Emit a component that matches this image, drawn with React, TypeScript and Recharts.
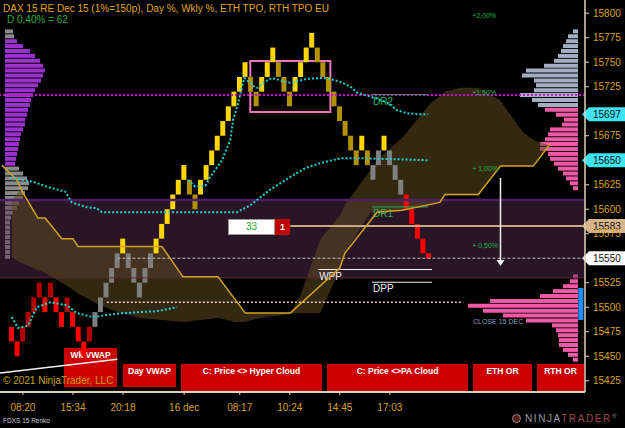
import React from "react";
import {
  ComposedChart,
  Bar,
  Line,
  Area,
  XAxis,
  YAxis,
  Cell,
  ReferenceArea,
  ReferenceLine,
  ReferenceDot,
} from "recharts";

const FONT = '"Liberation Sans", Arial, sans-serif';
const GOLD = "#D9A21B";
const AXIS = "#DCD4B8";

// price / brick-index window of the panel
const Y0 = 15413.5;
const Y1 = 15813.5;
const X0 = -2.12;
const X1 = 103.1;

// renko bricks (FDXS 15 Renko), left to right
const brickLow = [
  15465, 15450, 15465, 15480, 15495, 15510, 15495, 15510, 15495, 15480,
  15495, 15480, 15465, 15450, 15465, 15480, 15495, 15510, 15525, 15540,
  15555, 15540, 15525, 15510, 15525, 15540, 15555, 15570, 15585, 15600,
  15615, 15630, 15615, 15600, 15615, 15630, 15645, 15660, 15675, 15690,
  15705, 15720, 15735, 15720, 15705, 15720, 15735, 15750, 15735, 15720,
  15705, 15720, 15735, 15750, 15765, 15750, 15735, 15720, 15705, 15690,
  15675, 15660, 15645, 15660, 15645, 15630, 15645, 15660, 15645, 15630,
  15615, 15600, 15585, 15570, 15555, 15550,
];
const brickHigh = [
  15480, 15465, 15480, 15495, 15510, 15525, 15510, 15525, 15510, 15495,
  15510, 15495, 15480, 15465, 15480, 15495, 15510, 15525, 15540, 15555,
  15570, 15555, 15540, 15525, 15540, 15555, 15570, 15585, 15600, 15615,
  15630, 15645, 15630, 15615, 15630, 15645, 15660, 15675, 15690, 15705,
  15720, 15735, 15750, 15735, 15720, 15735, 15750, 15765, 15750, 15735,
  15720, 15735, 15750, 15765, 15780, 15765, 15750, 15735, 15720, 15705,
  15690, 15675, 15660, 15675, 15660, 15645, 15660, 15675, 15660, 15645,
  15630, 15615, 15600, 15585, 15570, 15555,
];
// R down, r up in downtrend, G neutral, Y up, D down in uptrend
const brickType = (
  "RRrrrrRrRRrRRRr" + "GGGGG" + "Y" + "GGGGG" + "YYYYYY" + "DD" + "YYYYYYYYY" +
  "DD" + "YYY" + "DDD" + "YYYY" + "DDDDDDDD" + "Y" + "D" + "GG" + "Y" + "GGG" + "RRRRR"
).split("");

const timeTicks = [2, 11, 20, 31, 41, 50, 59, 68];
const timeLabels = ["08:20", "15:34", "20:18", "16 dec", "08:17", "10:24", "14:45", "17:03"];
// 15550 / 15650 / 15700 sit under the price flags
const priceTicks = [
  15425, 15450, 15475, 15500, 15525, 15575, 15600,
  15625, 15675, 15725, 15750, 15775, 15800,
];

// cloud
const cloudX = [
  0, 1.5, 4.7, 6, 9, 11, 11.9, 15.9, 19.5, 23.1, 27, 30.8, 33.9, 37.1, 40.2, 41.9,
  44.7, 47.4, 50.1, 51.9, 55.5, 59.1, 59.9, 64.5, 65.7, 70.4, 75.3, 77.1, 77.9,
  80.7, 83.9, 87.9, 89.1, 92, 93.8, 95.1, 96.9,
];
const cloudLow = [
  15551, 15546, 15538, 15535, 15525, 15518, 15514, 15502, 15494, 15489, 15487,
  15485, 15487, 15489, 15485, 15485, 15489, 15491, 15493, 15494, 15494, 15540,
  15555, 15597, 15597, 15599, 15606, 15607, 15614, 15614, 15614, 15644, 15644,
  15644, 15644, 15655, 15665,
];
const cloudHigh = [
  15609, 15620, 15591, 15591, 15570, 15570, 15562, 15562, 15562, 15562, 15562,
  15531, 15531, 15531, 15507, 15494, 15494, 15494, 15494, 15512, 15569, 15594,
  15604, 15640, 15650, 15674, 15708, 15716, 15720, 15724, 15724, 15711, 15701,
  15678, 15671, 15668, 15665,
];

// stepped cloud line
const stepX = [-1.8, 0.9, 2, 4.7, 6, 9, 11, 11.9, 27, 30.8, 37.1, 42, 50.1, 59, 59.9, 65.7, 70.2, 77, 77.9, 83.9, 87.9, 93.8, 96.9];
const stepP = [15645, 15630, 15617, 15591, 15591, 15570, 15570, 15562, 15562, 15531, 15531, 15494, 15494, 15540, 15555, 15597, 15599, 15607, 15615, 15615, 15644, 15644, 15667];

// vwaps
const wkX = [-0.3, 3.8, 6.9, 9.6, 10.8, 13.5, 15.3, 16.2, 19.5, 40.5, 42.9, 46.5, 50.1, 52.8, 55.5, 59.1, 62.7, 69.3, 74.9];
const wkP = [15632, 15628, 15622, 15618, 15607, 15602, 15601, 15597, 15597, 15597, 15604, 15620, 15633, 15642, 15647, 15652, 15652, 15651, 15650];
const ethX = [0, 1.1, 2.9, 4.5, 6.9, 9.9, 11.7, 14.6, 17.1, 20, 26.1, 29.7];
const ethP = [15490, 15479, 15481, 15500, 15505, 15502, 15494, 15490, 15492, 15494, 15496, 15500];
const dayX = [
  31.7, 33, 34.8, 35.7, 37.8, 39.3, 39.8, 40.7, 41.4, 41.8, 42.9, 43.8, 44.3, 45.2,
  46.8, 49.2, 50.1, 53.1, 56, 57.8, 59.1, 60.9, 62.1, 64.5, 67.5, 69.3, 71.1, 72.9, 74.9,
];
const dayP = [
  15630, 15623, 15624, 15633, 15650, 15671, 15691, 15708, 15725, 15734, 15729,
  15724, 15724, 15729, 15734, 15730, 15729, 15733, 15734, 15732, 15730, 15725,
  15719, 15715, 15709, 15701, 15698, 15697, 15697,
];

// volume profiles: [price, volume, zone]
const leftProfile = [
  [15781, 8, 0], [15776, 9, 0], [15771, 12, 1], [15766, 18, 1], [15761, 25, 1],
  [15756, 30, 1], [15751, 35, 1], [15746, 38, 1], [15741, 40, 1], [15736, 38, 1],
  [15731, 36, 1], [15726, 33, 1], [15721, 30, 1], [15716, 28, 1], [15711, 26, 1],
  [15706, 25, 1], [15701, 23, 1], [15696, 22, 1], [15691, 20, 1], [15686, 20, 1],
  [15681, 18, 1], [15676, 16, 1], [15671, 15, 1], [15666, 14, 1], [15661, 13, 1],
  [15656, 12, 1], [15651, 11, 1], [15646, 10, 1], [15641, 14, 0], [15636, 18, 0],
  [15631, 22, 0], [15626, 24, 0], [15621, 23, 0], [15616, 20, 0], [15611, 18, 0],
  [15606, 14, 0], [15601, 12, 0], [15596, 8, 0], [15591, 6, 0], [15586, 5, 0],
  [15581, 5, 0], [15576, 5, 0], [15571, 5, 0], [15566, 5, 0], [15561, 5, 0],
  [15556, 5, 0], [15551, 5, 0],
];
const rightProfile = [
  [15781, 5, 0], [15776, 10, 0], [15771, 12, 0], [15766, 15, 0], [15761, 17, 0],
  [15756, 20, 0], [15751, 24, 0], [15746, 34, 0], [15741, 52, 0], [15736, 56, 0],
  [15731, 44, 0], [15726, 42, 0], [15721, 44, 0], [15716, 58, 0], [15711, 46, 0],
  [15706, 40, 0], [15701, 33, 1], [15696, 22, 1], [15691, 14, 1], [15686, 16, 1],
  [15681, 28, 1], [15676, 30, 1], [15671, 33, 1], [15666, 38, 1], [15661, 38, 1],
  [15656, 30, 1], [15651, 28, 1], [15646, 24, 1], [15641, 20, 1], [15636, 15, 1],
  [15631, 12, 1], [15626, 8, 1], [15621, 5, 1],
  [15531, 5, 1], [15526, 8, 1], [15521, 15, 1], [15516, 25, 1], [15511, 38, 1],
  [15506, 88, 1], [15501, 110, 1], [15496, 95, 1], [15491, 75, 1], [15486, 52, 1],
  [15481, 26, 1], [15476, 22, 1], [15471, 20, 1], [15466, 19, 1], [15461, 19, 1],
  [15456, 15, 1], [15451, 10, 1], [15446, 5, 1],
];

const brickFill: Record<string, string> = {
  R: "#FF0000",
  r: "#B40000",
  G: "#7F7F7F",
  Y: "#FFD700",
  D: "#B39200",
};

const bricks = brickLow.map((lo, i) => ({ x: i, range: [lo, brickHigh[i]], t: brickType[i] }));
const cloud = cloudX.map((x, i) => ({ x, v: [cloudLow[i], cloudHigh[i]] }));
const toLine = (xs: number[], ps: number[]) => xs.map((x, i) => ({ x, p: ps[i] }));
const stepLine = toLine(stepX, stepP);
const wkLine = toLine(wkX, wkP);
const ethLine = toLine(ethX, ethP);
const dayLine = toLine(dayX, dayP);

const profileRows = (() => {
  const m = new Map<number, any>();
  leftProfile.forEach(([p, v, z]) => {
    m.set(p, { p, l: v, lc: z ? "#9B30CC" : "#8A8A8A", r: 0, rc: "#000" });
  });
  rightProfile.forEach(([p, v, z]) => {
    const row = m.get(p) || { p, l: 0, lc: "#000" };
    row.r = v;
    row.rc = z ? "#EE5AA5" : "#A4AEC2";
    m.set(p, row);
  });
  return Array.from(m.values());
})();

function Flag(props: any) {
  const { viewBox, text, bg } = props;
  const y = viewBox.y;
  const x = viewBox.x + viewBox.width - 3;
  return (
    <g>
      <polygon
        points={`${x},${y} ${x + 7},${y - 7} 625,${y - 7} 625,${y + 7} ${x + 7},${y + 7}`}
        fill={bg}
      />
      <text x={x + 11} y={y + 4} fontSize={10} fill="#111" fontFamily={FONT}>
        {text}
      </text>
    </g>
  );
}

function LineTag(props: any) {
  const { viewBox, text, color } = props;
  return (
    <text x={viewBox.x + 1} y={viewBox.y + 10} fontSize={10} fill={color} fontFamily={FONT}>
      {text}
    </text>
  );
}

const pctLabel = (text: string) => (p: any) => (
  <text x={p.cx} y={p.cy + 2.5} fontSize={7} fill="#19B84A" fontFamily={FONT}>
    {text}
  </text>
);

const box = (left: number, top: number, w: number, h: number, text: string) => (
  <div
    style={{
      position: "absolute",
      left,
      top,
      width: w,
      height: h,
      background: "#CC0000",
      color: "#fff",
      fontSize: 8.5,
      fontWeight: "bold",
      textAlign: "center",
      lineHeight: "11px",
      paddingTop: 2,
      boxSizing: "border-box",
      whiteSpace: "nowrap",
    }}
  >
    {text}
  </div>
);

const dotted = {
  type: "linear" as const,
  stroke: "#1ECFD6",
  strokeWidth: 2,
  strokeDasharray: "2 2",
  dot: false,
  activeDot: false,
  isAnimationActive: false,
};

export default function App() {
  return (
    <div
      style={{
        position: "relative",
        width: 625,
        height: 428,
        background: "#000",
        overflow: "hidden",
        fontFamily: FONT,
      }}
    >
      <style>{"body{margin:0;background:#000}"}</style>

      {/* volume profiles */}
      <ComposedChart
        layout="vertical"
        width={625}
        height={428}
        data={profileRows}
        margin={{ top: 0, right: 47, bottom: 36, left: 5 }}
        style={{ position: "absolute", left: 0, top: 0 }}
      >
        <XAxis xAxisId="l" type="number" domain={[0, 573]} hide height={0} allowDataOverflow />
        <XAxis xAxisId="r" type="number" domain={[0, 573]} reversed hide height={0} allowDataOverflow />
        <YAxis yAxisId="a" type="number" dataKey="p" domain={[Y0, Y1]} reversed hide width={0} allowDataOverflow />
        <YAxis yAxisId="b" type="number" dataKey="p" domain={[Y0, Y1]} reversed hide width={0} allowDataOverflow />
        <Bar xAxisId="l" yAxisId="a" dataKey="l" barSize={4} isAnimationActive={false}>
          {profileRows.map((r, i) => (
            <Cell key={i} fill={r.lc} />
          ))}
        </Bar>
        <Bar xAxisId="r" yAxisId="b" dataKey="r" barSize={4} isAnimationActive={false}>
          {profileRows.map((r, i) => (
            <Cell key={i} fill={r.rc} />
          ))}
        </Bar>
      </ComposedChart>

      {/* signal boxes */}
      {box(64, 348, 53, 39, "Wk VWAP")}
      {box(123, 364, 53, 23, "Day VWAP")}
      {box(181, 364, 141, 27, "C: Price <> Hyper Cloud")}
      {box(327, 364, 141, 27, "C: Price <>PA Cloud")}
      {box(473, 364, 59, 27, "ETH OR")}
      {box(537, 364, 47, 27, "RTH OR")}

      <ComposedChart
        width={625}
        height={428}
        data={bricks}
        margin={{ top: 0, right: 0, bottom: 0, left: 0 }}
        style={{ position: "absolute", left: 0, top: 0 }}
      >
        <XAxis
          xAxisId="t"
          type="number"
          dataKey="x"
          domain={[X0, X1]}
          ticks={timeTicks}
          interval={0}
          tickFormatter={(v) => timeLabels[timeTicks.indexOf(v)] ?? ""}
          height={36}
          tickSize={3}
          tickMargin={9}
          axisLine={{ stroke: AXIS, strokeWidth: 2 }}
          tickLine={{ stroke: AXIS }}
          tick={{ fill: GOLD, fontSize: 10, fontFamily: FONT }}
          allowDataOverflow
        />
        <XAxis xAxisId="b" type="number" dataKey="x" domain={[X0, X1]} orientation="top" hide height={0} allowDataOverflow />
        <YAxis
          orientation="right"
          type="number"
          domain={[Y0, Y1]}
          ticks={priceTicks}
          interval={0}
          width={40}
          tickSize={4}
          tickMargin={4}
          axisLine={{ stroke: AXIS, strokeWidth: 1.5 }}
          tickLine={{ stroke: AXIS }}
          tick={{ fill: GOLD, fontSize: 10, fontFamily: FONT }}
          allowDataOverflow
        />

        <ReferenceArea xAxisId="t" y1={15530} y2={15609.5} fill="#5C2F52" fillOpacity={0.45} stroke="none" />
        <Area
          xAxisId="t"
          data={cloud}
          dataKey="v"
          type="linear"
          stroke="none"
          fill="#5C4A1F"
          fillOpacity={0.55}
          dot={false}
          activeDot={false}
          isAnimationActive={false}
        />
        <ReferenceLine xAxisId="t" y={15609.5} stroke="#4E1F66" strokeWidth={2.5} />
        <ReferenceLine xAxisId="t" y={15530} stroke="#5B2A3A" strokeWidth={1} />
        <ReferenceLine xAxisId="t" y={15716.6} stroke="#CC00CC" strokeWidth={2} strokeDasharray="2 2" />
        <ReferenceLine
          xAxisId="t"
          segment={[{ x: 19, y: 15550 }, { x: X1, y: 15550 }]}
          stroke="#BFBFBF"
          strokeDasharray="3 2"
        />
        <ReferenceLine
          xAxisId="t"
          segment={[{ x: 17.1, y: 15505 }, { x: 81.2, y: 15505 }]}
          stroke="#E8C8C8"
          strokeWidth={1.5}
          strokeDasharray="2 2"
        />
        <ReferenceLine
          xAxisId="t"
          segment={[{ x: 50.1, y: 15583 }, { x: X1, y: 15583 }]}
          stroke="#C8A882"
          strokeWidth={2}
        />
        <ReferenceLine
          xAxisId="t"
          segment={[{ x: 55.1, y: 15538.5 }, { x: 75.6, y: 15538.5 }]}
          stroke="#F0F0F0"
          label={(p: any) => <LineTag {...p} text="WPP" color="#F0F0F0" />}
        />
        <ReferenceLine
          xAxisId="t"
          segment={[{ x: 64.8, y: 15525.5 }, { x: 75.6, y: 15525.5 }]}
          stroke="#F0F0F0"
          label={(p: any) => <LineTag {...p} text="DPP" color="#F0F0F0" />}
        />
        <ReferenceLine
          xAxisId="t"
          segment={[{ x: 64.8, y: 15717 }, { x: 74.9, y: 15717 }]}
          stroke="#3A8A72"
          label={(p: any) => <LineTag {...p} text="DR2" color="#1FB85A" />}
        />
        <ReferenceLine
          xAxisId="t"
          segment={[{ x: 64.8, y: 15602.3 }, { x: 74.9, y: 15602.3 }]}
          stroke="#1FA85A"
          label={(p: any) => <LineTag {...p} text="DR1" color="#1FB85A" />}
        />
        <ReferenceLine
          xAxisId="t"
          segment={[{ x: -2.12, y: 15433 }, { x: 19, y: 15447 }]}
          stroke="#F0F0F0"
          strokeWidth={1.5}
        />
        <ReferenceArea
          xAxisId="t"
          x1={42.9}
          x2={57.3}
          y1={15699.2}
          y2={15751.3}
          fill="none"
          stroke="#E878B8"
          strokeWidth={2}
        />

        <Line
          xAxisId="t"
          data={stepLine}
          dataKey="p"
          type="linear"
          stroke="#D2A21E"
          strokeWidth={1.5}
          dot={false}
          activeDot={false}
          isAnimationActive={false}
        />

        <Bar xAxisId="b" dataKey="range" barSize={5} isAnimationActive={false}>
          {bricks.map((b, i) => (
            <Cell key={i} fill={brickFill[b.t]} />
          ))}
        </Bar>

        <Line xAxisId="t" data={ethLine} dataKey="p" {...dotted} />
        <Line xAxisId="t" data={wkLine} dataKey="p" {...dotted} />
        <Line xAxisId="t" data={dayLine} dataKey="p" {...dotted} />

        {/* projection arrow */}
        <ReferenceLine
          xAxisId="t"
          segment={[{ x: 87.9, y: 15632 }, { x: 87.9, y: 15547 }]}
          stroke="#F0F0F0"
          strokeWidth={1.5}
        />
        <ReferenceDot
          xAxisId="t"
          x={87.9}
          y={15542}
          r={0}
          shape={(p: any) => (
            <polygon points={`${p.cx - 4},${p.cy - 6} ${p.cx + 4},${p.cy - 6} ${p.cx},${p.cy}`} fill="#F0F0F0" />
          )}
        />

        <ReferenceDot xAxisId="t" x={82.8} y={15798} r={0} shape={pctLabel("+2,00%")} />
        <ReferenceDot xAxisId="t" x={82.8} y={15719.6} r={0} shape={pctLabel("+1,50%")} />
        <ReferenceDot xAxisId="t" x={82.8} y={15642} r={0} shape={pctLabel("+ 1,00%")} />
        <ReferenceDot xAxisId="t" x={82.8} y={15563.5} r={0} shape={pctLabel("+ 0,50%")} />

        <ReferenceArea xAxisId="t" x1={101.9} x2={102.8} y1={15487} y2={15519.6} fill="#1E90FF" fillOpacity={1} stroke="none" />

        <ReferenceLine xAxisId="t" y={15697} stroke="transparent" label={(p: any) => <Flag {...p} text="15697" bg="#3FE4F4" />} />
        <ReferenceLine xAxisId="t" y={15650} stroke="transparent" label={(p: any) => <Flag {...p} text="15650" bg="#3FE4F4" />} />
        <ReferenceLine xAxisId="t" y={15583} stroke="transparent" label={(p: any) => <Flag {...p} text="15583" bg="#D8B48A" />} />
        <ReferenceLine xAxisId="t" y={15550} stroke="transparent" label={(p: any) => <Flag {...p} text="15550" bg="#FFFFFF" />} />
      </ComposedChart>

      {/* overlays */}
      <div style={{ position: "absolute", left: 3, top: 3, fontSize: 10, color: "#E0A418", whiteSpace: "nowrap" }}>
        DAX 15 RE Dec 15 (1%=150p), Day %, Wkly %, ETH TPO, RTH TPO EU
      </div>
      <div style={{ position: "absolute", left: 7, top: 14, fontSize: 10, color: "#20B040" }}>D 0,40% = 62</div>
      <div style={{ position: "absolute", left: 228, top: 219, width: 47, height: 16, background: "#fff", border: "1px solid #999", boxSizing: "border-box", color: "#2DA02D", fontSize: 10, textAlign: "center", lineHeight: "14px" }}>
        33
      </div>
      <div style={{ position: "absolute", left: 275, top: 219, width: 15, height: 16, background: "#C00000", color: "#fff", fontSize: 9, fontWeight: "bold", textAlign: "center", lineHeight: "16px" }}>
        1
      </div>
      <div style={{ position: "absolute", left: 473, top: 318, fontSize: 7, color: "#8E9BB8", whiteSpace: "nowrap" }}>CLOSE 15 DEC</div>
      <div style={{ position: "absolute", left: 3, top: 375, fontSize: 10, color: "#C9A000", whiteSpace: "nowrap" }}>© 2021 NinjaTrader, LLC</div>
      <div style={{ position: "absolute", left: 3, top: 417, fontSize: 6.5, color: "#C8C8C8", whiteSpace: "nowrap" }}>FDXS 15 Renko</div>
      <div style={{ position: "absolute", left: 512, top: 414, width: 9, height: 9, borderRadius: "50%", border: "1.5px solid #8A8A8A", boxSizing: "border-box", background: "#5A1A1A" }} />
      <div style={{ position: "absolute", left: 525, top: 413, fontSize: 10, letterSpacing: 1.6, whiteSpace: "nowrap" }}>
        <span style={{ color: "#9A9A9A" }}>NINJA</span>
        <span style={{ color: "#9C4A4A" }}>TRADER</span>
        <span style={{ color: "#9A9A9A", fontSize: 6, verticalAlign: "top" }}>®</span>
      </div>
    </div>
  );
}
